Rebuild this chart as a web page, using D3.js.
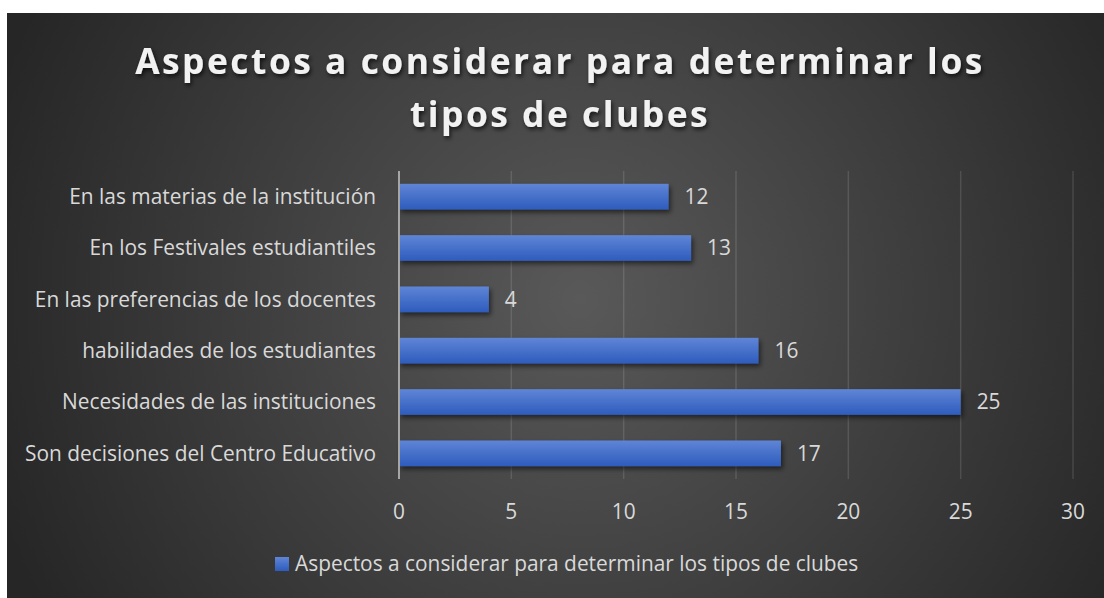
<!DOCTYPE html>
<html><head><meta charset="utf-8">
<script src="https://cdn.jsdelivr.net/npm/d3@7"></script>
<style>
html,body{margin:0;padding:0;background:#fff;}
svg{display:block;}
text{font-family:"Open Sans","Noto Sans",sans-serif;}
</style></head>
<body>
<svg id="c" width="1104" height="598"></svg>
<script>
const categories = [
  "En las materias de la institución",
  "En los Festivales estudiantiles",
  "En las preferencias de los docentes",
  "habilidades de los estudiantes",
  "Necesidades de las instituciones",
  "Son decisiones del Centro Educativo"
];
const values = [12, 13, 4, 16, 25, 17];
const xTicks = [0, 5, 10, 15, 20, 25, 30];
const titleLines = ["Aspectos a considerar para determinar los", "tipos de clubes"];
const seriesName = "Aspectos a considerar para determinar los tipos de clubes";

const svg = d3.select("#c");
const defs = svg.append("defs");
const rg = defs.append("radialGradient").attr("id","bg")
  .attr("gradientUnits","userSpaceOnUse").attr("cx",580).attr("cy",300).attr("r",620);
rg.append("stop").attr("offset","0").attr("stop-color","#595959");
rg.append("stop").attr("offset","1").attr("stop-color","#262626");
const bg = defs.append("linearGradient").attr("id","bar").attr("x1",0).attr("y1",0).attr("x2",0).attr("y2",1);
bg.append("stop").attr("offset","0").attr("stop-color","#5f85d6");
bg.append("stop").attr("offset","1").attr("stop-color","#2e5cbd");
const sh = defs.append("filter").attr("id","sh").attr("x","-10%").attr("y","-30%").attr("width","130%").attr("height","180%");
sh.append("feDropShadow").attr("dx",2).attr("dy",3).attr("stdDeviation",2.5).attr("flood-color","#000").attr("flood-opacity",0.55);
const tsh = defs.append("filter").attr("id","tsh").attr("x","-5%").attr("y","-30%").attr("width","110%").attr("height","170%");
tsh.append("feDropShadow").attr("dx",1.5).attr("dy",2.5).attr("stdDeviation",2).attr("flood-color","#000").attr("flood-opacity",0.7);

svg.append("rect").attr("x",7).attr("y",13).attr("width",1097).attr("height",585).attr("fill","url(#bg)");

const x = d3.scaleLinear().domain([0,30]).range([399,1073]);
const y = d3.scaleBand().domain(categories).range([171,479]).paddingInner(0.5).paddingOuter(0.25);

svg.append("g").selectAll("line").data(xTicks.filter(d=>d>0)).join("line")
  .attr("x1",d=>x(d)).attr("x2",d=>x(d)).attr("y1",171).attr("y2",479)
  .attr("stroke","#ffffff").attr("stroke-opacity",0.12).attr("stroke-width",1.5);

svg.append("g").selectAll("rect").data(values).join("rect")
  .attr("x",x(0)).attr("y",(d,i)=>y(categories[i]))
  .attr("width",d=>x(d)-x(0)).attr("height",y.bandwidth())
  .attr("fill","url(#bar)").attr("filter","url(#sh)");

svg.append("line").attr("x1",x(0)).attr("x2",x(0)).attr("y1",171).attr("y2",479)
  .attr("stroke","#a6a6a6").attr("stroke-width",2);

const catText = svg.append("g").selectAll("text").data(categories).join("text")
  .attr("x",376).attr("y",d=>y(d)+y.bandwidth()/2).attr("dy","0.35em")
  .attr("text-anchor","end").attr("fill","#d9d9d9").attr("font-size",19).text(d=>d);
(function(){
  const node = catText.filter((d,i)=>i===5).node();
  const k = 351/node.getComputedTextLength();
  catText.attr("font-size",(19*k).toFixed(2));
})();
const fsBody = +catText.attr("font-size");

svg.append("g").selectAll("text").data(values).join("text")
  .attr("x",d=>x(d)+16).attr("y",(d,i)=>y(categories[i])+y.bandwidth()/2).attr("dy","0.35em")
  .attr("fill","#d9d9d9").attr("font-size",fsBody).text(d=>d);

svg.append("g").selectAll("text").data(xTicks).join("text")
  .attr("x",d=>x(d)).attr("y",512).attr("dy","0.35em").attr("text-anchor","middle")
  .attr("fill","#d9d9d9").attr("font-size",fsBody).text(d=>d);

const tt = svg.append("g").attr("filter","url(#tsh)").selectAll("text").data(titleLines).join("text")
  .attr("x",560).attr("y",(d,i)=>74+i*53).attr("text-anchor","middle")
  .attr("fill","#f2f2f2").attr("font-size",35).attr("font-weight","bold").attr("letter-spacing",2.5)
  .text(d=>d);
(function(){
  const node = tt.filter((d,i)=>i===0).node();
  const k = 850/node.getComputedTextLength();
  tt.attr("font-size",(35*Math.sqrt(k)).toFixed(2)).attr("letter-spacing",(2.5*k).toFixed(2));
  const k2 = 850/node.getComputedTextLength();
  tt.attr("font-size",(+tt.attr("font-size")*k2).toFixed(2));
})();

svg.append("rect").attr("x",275).attr("y",557).attr("width",14).attr("height",14).attr("fill","url(#bar)");
svg.append("text").attr("x",295).attr("y",564).attr("dy","0.35em").attr("fill","#d9d9d9").attr("font-size",fsBody).text(seriesName);
</script>
</body></html>
